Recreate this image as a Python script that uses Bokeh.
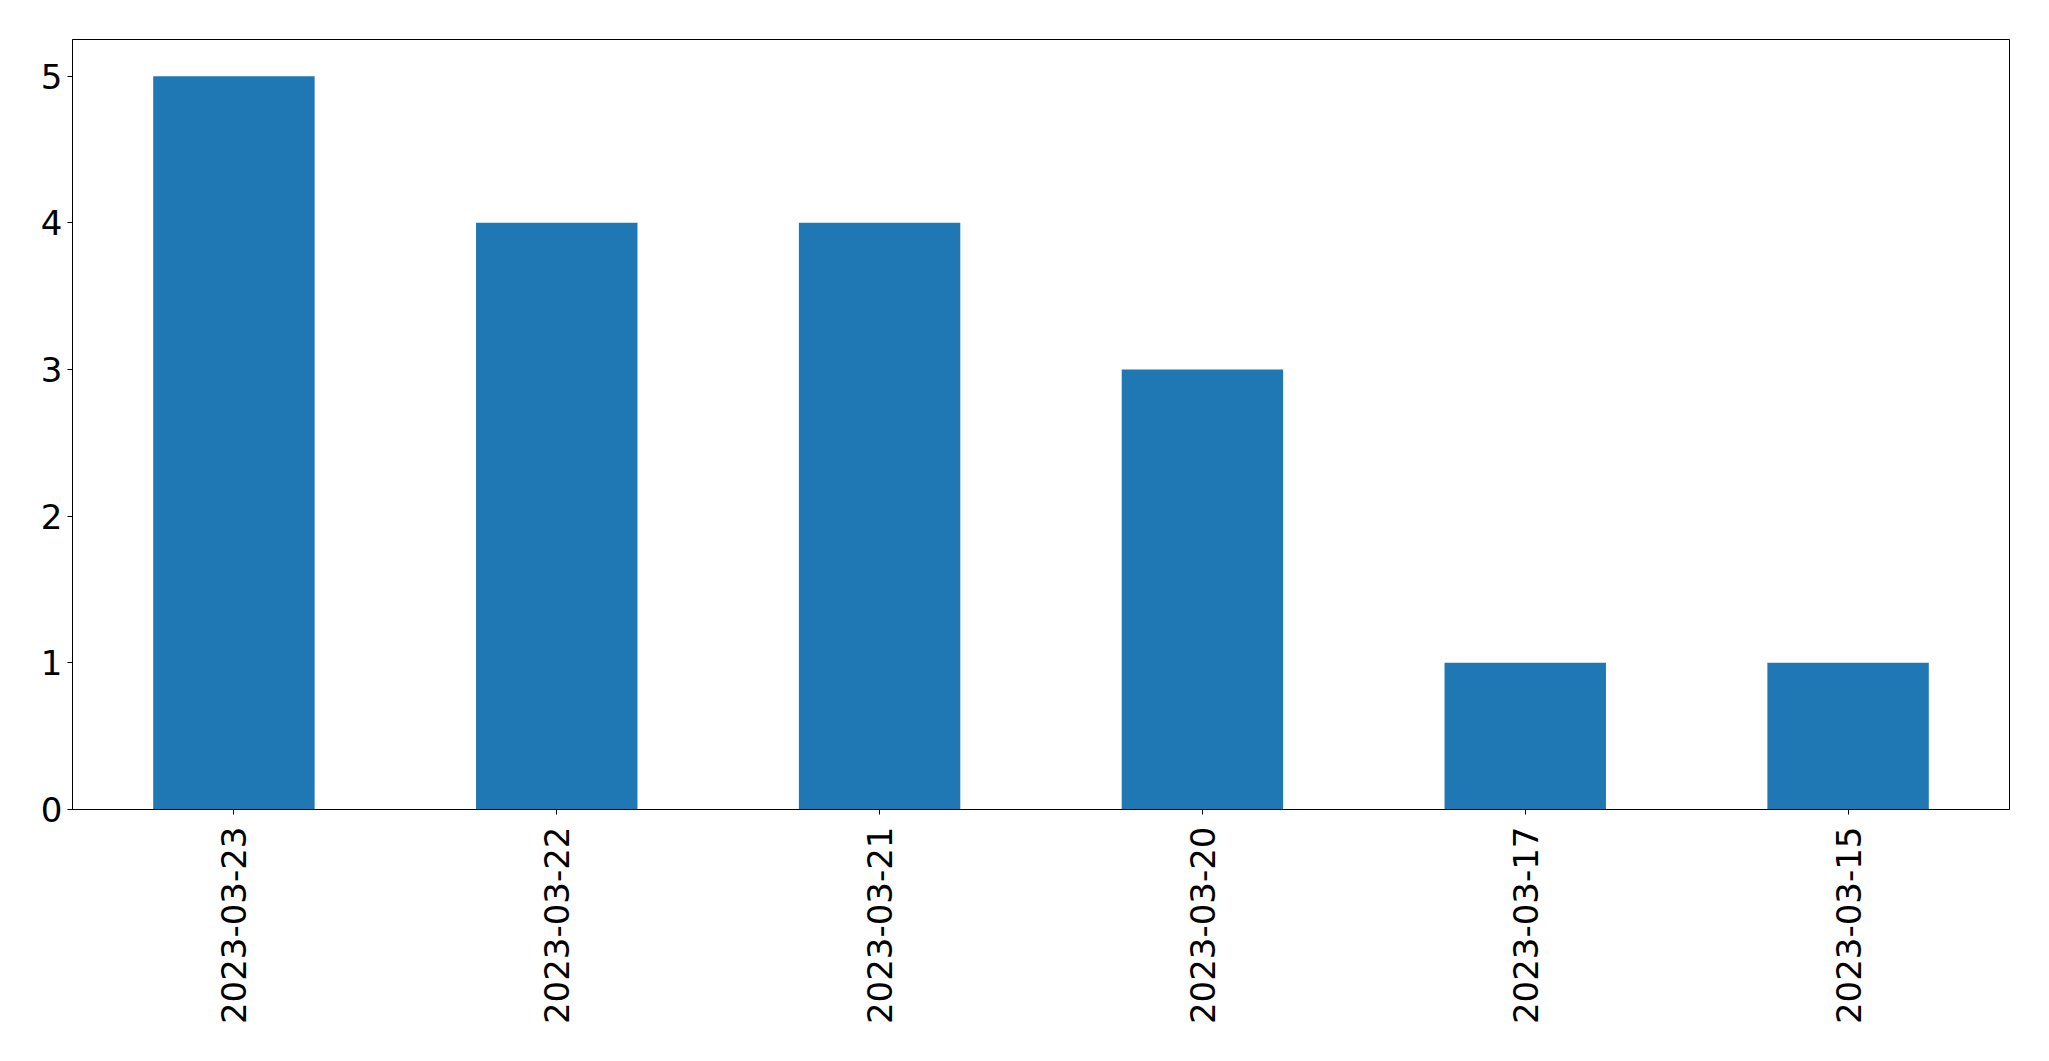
import math
from bokeh.plotting import figure
from bokeh.models import FactorRange, Range1d, FixedTicker, ColumnDataSource
from bokeh.embed import file_html
from bokeh.resources import INLINE

dates = ["2023-03-23", "2023-03-22", "2023-03-21", "2023-03-20", "2023-03-17", "2023-03-15"]
counts = [5, 4, 4, 3, 1, 1]
y_ticks = [0, 1, 2, 3, 4, 5]

src = ColumnDataSource(dict(dates=dates, counts=counts))

p = figure(
    width=2033, height=1045,
    x_range=FactorRange(*dates, range_padding=0),
    y_range=Range1d(0, 5.25),
    output_backend="svg", toolbar_location=None,
    min_border_left=72, min_border_top=39, min_border_right=24, min_border_bottom=236,
)
p.vbar(x="dates", top="counts", width=0.5, source=src, color="#1f77b4", line_color=None)

p.xgrid.visible = False
p.ygrid.visible = False
p.outline_line_color = "black"
p.outline_line_width = 1
p.outline_line_alpha = 1

for ax in (p.xaxis[0], p.yaxis[0]):
    ax.axis_line_color = "black"
    ax.axis_line_width = 1
    ax.major_tick_line_color = "black"
    ax.major_tick_out = 5
    ax.major_tick_in = 0
    ax.minor_tick_line_color = None
    ax.major_label_text_font = "DejaVu Sans"
    ax.major_label_text_font_size = "34px"
    ax.major_label_text_color = "black"

p.yaxis[0].ticker = FixedTicker(ticks=y_ticks)
p.yaxis[0].major_label_standoff = 5
p.xaxis[0].major_label_orientation = math.pi / 2
p.xaxis[0].major_label_standoff = 12

open("out.html", "w").write(file_html(p, INLINE))
